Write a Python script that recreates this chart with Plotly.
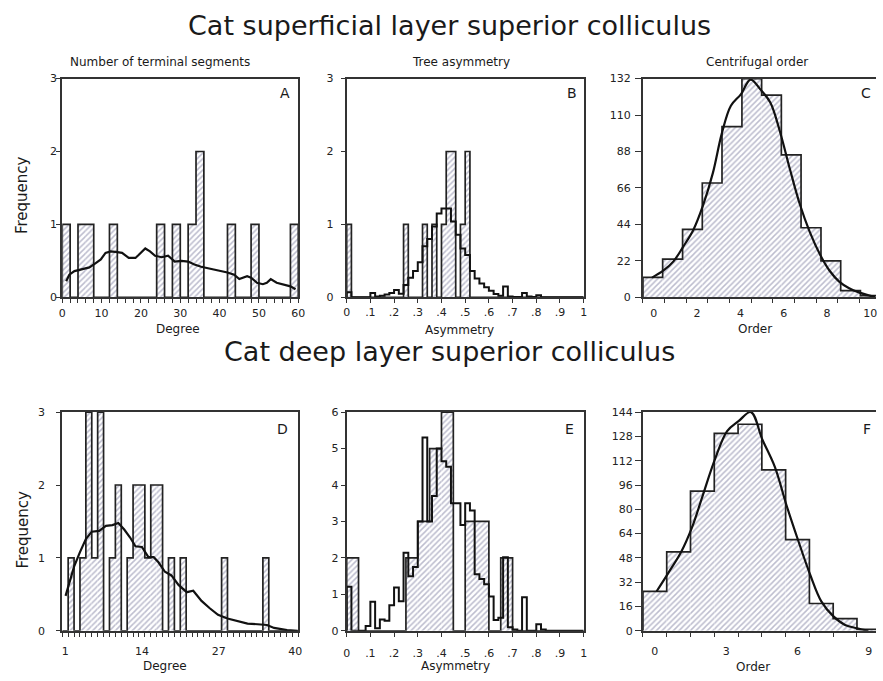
import plotly.graph_objects as go

W, H = 883, 681
FONT = "DejaVu Sans, Verdana, sans-serif"

# ---------------- data ----------------
# Panel A - number of terminal segments (superficial layer), bins of width 2
a_edges = list(range(0, 62, 2))
a_counts = [1, 0, 1, 1, 0, 0, 1, 0, 0, 0, 0, 0, 1, 0, 1, 0, 1, 2, 0, 0,
            0, 1, 0, 0, 1, 0, 0, 0, 0, 1]
a_fit_x = [1, 1.8, 3.1, 4.8, 6.9, 8.5, 9.8, 11, 12.3, 14, 15.2, 16.9, 18.6, 19.4,
           21.1, 22.3, 23.6, 25.3, 26.9, 28.6, 30.3, 32, 33.6, 35.3, 37, 38.7,
           40.3, 42, 43.7, 45, 47, 48, 49.5, 51, 52, 53, 54.5, 56, 58, 59.3]
a_fit_y = [0.22, 0.31, 0.36, 0.38, 0.41, 0.47, 0.52, 0.61, 0.63, 0.62, 0.61, 0.54,
           0.54, 0.58, 0.67, 0.63, 0.57, 0.55, 0.57, 0.49, 0.50, 0.49, 0.45, 0.42,
           0.40, 0.37, 0.36, 0.34, 0.31, 0.25, 0.29, 0.27, 0.20, 0.18, 0.20, 0.25,
           0.20, 0.18, 0.15, 0.11]

# Panel B - tree asymmetry (superficial layer), bins of width 0.02
b_edges = [0.00, 0.02, 0.04, 0.06, 0.08, 0.10, 0.12, 0.14, 0.16, 0.18, 0.20, 0.22,
           0.24, 0.26, 0.28, 0.30, 0.32, 0.34, 0.36, 0.38, 0.40, 0.42, 0.44, 0.46,
           0.48, 0.50, 0.52, 0.54, 0.56, 0.58, 0.60, 0.62, 0.64, 0.66, 0.68, 0.70,
           0.72, 0.74, 0.76, 0.78, 0.80, 0.82, 0.84, 0.86, 0.88, 0.90, 0.92, 0.94,
           0.96, 0.98, 1.00]
b_counts = [1, 0, 0, 0, 0, 0, 0, 0, 0, 0, 0, 0, 1, 0, 0, 0, 1, 0, 1, 0,
            1, 2, 2, 0, 1, 2, 0, 0, 0, 0, 0, 0, 0, 0, 0, 0, 0, 0, 0, 0,
            0, 0, 0, 0, 0, 0, 0, 0, 0, 0]
b_model = [0.07, 0, 0, 0, 0, 0.06, 0.01, 0.02, 0.04, 0.06,
           0.10, 0.05, 0.17, 0.27, 0.36, 0.48, 0.70, 0.80, 0.97, 1.15,
           1.22, 1.22, 1.04, 0.86, 0.67, 0.58, 0.36, 0.26, 0.19, 0.14,
           0.09, 0.045, 0.02, 0.15, 0.01, 0.005, 0.005, 0.06, 0.01, 0.005,
           0.03, 0, 0, 0, 0, 0, 0, 0, 0, 0]

# Panel C - centrifugal order (superficial layer)
c_edges = [-0.5, 0.41, 1.33, 2.24, 3.15, 4.07, 4.98, 5.89, 6.80, 7.72, 8.63, 9.54, 10.45]
c_counts = [12, 23, 41, 69, 103, 132, 122, 86, 42, 22, 4, 1]
c_fit_x = [-0.08, 0.45, 0.91, 1.36, 1.82, 2.27, 2.73, 3.14, 3.56, 4.02, 4.47, 4.92,
           5.38, 5.83, 6.29, 6.74, 7.2, 7.68, 8.11, 8.56, 9.02, 9.47, 9.92, 10.23]
c_fit_y = [11.9, 16.2, 21.7, 30.6, 40.5, 55.3, 75.1, 98.8, 115.6, 122.5, 131.4, 125.5,
           117.6, 99.8, 77.1, 56.3, 39.5, 25.7, 16.2, 9.5, 5.5, 3.0, 1.2, 0.4]

# Panel D - number of terminal segments (deep layer), unit bins
d_edges = [x + 0.5 for x in range(0, 41)]
d_counts = [0, 1, 0, 1, 3, 1, 3, 0, 1, 2, 0, 1, 2, 2, 1, 2, 2, 0, 1, 0,
            1, 0, 0, 0, 0, 0, 0, 1, 0, 0, 0, 0, 0, 0, 1, 0, 0, 0, 0, 0]
d_fit_x = [1.06, 1.7, 2.5, 3.5, 4.5, 5.5, 6.75, 7.9, 9, 10, 11, 12, 12.9, 14, 15.1,
           16, 16.8, 17.9, 19, 20.2, 21.6, 22.7, 24.1, 25.5, 26.9, 28.5, 30.2, 31.9,
           33.6, 35.2, 36.4, 37.5, 38.6, 40.4]
d_fit_y = [0.48, 0.67, 0.88, 1.08, 1.26, 1.36, 1.37, 1.44, 1.45, 1.48, 1.39, 1.28,
           1.16, 1.15, 1.01, 1.01, 0.94, 0.81, 0.76, 0.63, 0.53, 0.55, 0.41, 0.31,
           0.22, 0.17, 0.13, 0.10, 0.09, 0.08, 0.04, 0.02, 0.01, 0.0]

# Panel E - tree asymmetry (deep layer)
e_edges = [0.00, 0.05, 0.10, 0.15, 0.20, 0.25, 0.30, 0.35, 0.40, 0.45, 0.50, 0.55,
           0.60, 0.65, 0.70, 0.75, 0.80, 0.85, 0.90, 0.95, 1.00]
e_counts = [2, 0, 0, 0, 0, 2, 3, 5, 6, 0, 3, 3, 0, 2, 0, 0, 0, 0, 0, 0]
e_model = [1.21, 0, 0, 0, 0.13, 0.80, 0.07, 0.31, 0.28, 0.70,
           1.19, 0.81, 2.14, 1.50, 1.75, 3.0, 5.3, 3.0, 3.7, 5.0,
           4.65, 4.5, 3.5, 3.5, 2.9, 3.5, 3.3, 1.55, 1.42, 1.28,
           0.94, 0.30, 0.36, 2.02, 0.10, 0.04, 0, 0.92, 0, 0,
           0.18, 0.04, 0, 0, 0, 0, 0, 0, 0, 0]

# Panel F - centrifugal order (deep layer)
f_edges = [-0.5, 0.5, 1.5, 2.5, 3.5, 4.5, 5.5, 6.5, 7.5, 8.5, 9.5]
f_counts = [26, 52, 92, 130, 136, 106, 60, 18, 8, 1]
f_fit_x = [0.07, 0.55, 1.1, 1.56, 2.0, 2.53, 3.04, 3.52, 4.04, 4.52, 5.05, 5.53,
           6.01, 6.54, 7.0, 7.5, 8.0, 8.5, 8.98]
f_fit_y = [25.9, 37.7, 51.7, 67.9, 88.4, 113, 131.5, 138, 144, 126, 107.8, 83,
           60.3, 36.6, 19.4, 9.7, 3.9, 1.7, 0]

# ---------------- helpers ----------------
PATTERN = dict(shape="/", fgcolor="#7c7c9e", bgcolor="white", size=4, solidity=0.38)
LINE_C = "#222222"


def hist_bars(edges, counts, ax):
    n = len(counts)
    centers = [(edges[i] + edges[i + 1]) / 2 for i in range(n)]
    widths = [edges[i + 1] - edges[i] for i in range(n)]
    return go.Bar(x=centers, y=counts, width=widths, xaxis="x" + ax, yaxis="y" + ax,
                  marker=dict(color="white", line=dict(width=0), pattern=PATTERN),
                  hoverinfo="skip")


def step_outline(edges, counts, ax, width=1.7, color=LINE_C):
    n = len(counts)
    xs = [edges[0]] + list(edges[:n]) + [edges[n]]
    ys = [0] + list(counts) + [0]
    return go.Scatter(x=xs, y=ys, mode="lines", xaxis="x" + ax, yaxis="y" + ax,
                      line=dict(shape="hv", width=width, color=color), hoverinfo="skip")


def fit_line(xs, ys, ax, shape="linear"):
    return go.Scatter(x=xs, y=ys, mode="lines", xaxis="x" + ax, yaxis="y" + ax,
                      line=dict(color="#111", width=2.2, shape=shape), hoverinfo="skip")


traces = [
    hist_bars(a_edges, a_counts, ""), step_outline(a_edges, a_counts, ""),
    fit_line(a_fit_x, a_fit_y, ""),
    hist_bars(b_edges, b_counts, "2"), step_outline(b_edges, b_counts, "2"),
    step_outline(b_edges, b_model, "2", width=2, color="#111"),
    hist_bars(c_edges, c_counts, "3"), step_outline(c_edges, c_counts, "3"),
    fit_line(c_fit_x, c_fit_y, "3", shape="spline"),
    hist_bars(d_edges, d_counts, "4"), step_outline(d_edges, d_counts, "4"),
    fit_line(d_fit_x, d_fit_y, "4"),
    hist_bars(e_edges, e_counts, "5"), step_outline(e_edges, e_counts, "5"),
    step_outline(b_edges, e_model, "5", width=2, color="#111"),
    hist_bars(f_edges, f_counts, "6"), step_outline(f_edges, f_counts, "6"),
    fit_line(f_fit_x, f_fit_y, "6", shape="spline"),
]

fig = go.Figure(traces)


def dx(a, b):
    return [a / W, b / W]


def dy(top, bottom):
    return [1 - bottom / H, 1 - top / H]


TICKFONT = dict(family=FONT, size=11, color="#222")


def xax(domain, rng, anchor, tickvals, ticktext, minor_vals=None, major_ticks=True,
        mirror=True, standoff=0):
    d = dict(domain=domain, range=rng, anchor=anchor, showline=True, linewidth=2,
             linecolor="#333", mirror=mirror, showgrid=False, zeroline=False,
             tickmode="array", tickvals=tickvals, ticktext=ticktext,
             ticks="outside" if major_ticks else "", ticklen=4, tickwidth=1,
             tickcolor="#333", tickfont=TICKFONT, fixedrange=True,
             ticklabelstandoff=standoff)
    if minor_vals is not None:
        d["minor"] = dict(tickmode="array", tickvals=minor_vals, ticks="outside",
                          ticklen=4, tickwidth=1, tickcolor="#333", showgrid=False)
    return d


def yax(domain, rng, anchor, tickvals, mirror=True, ticklen=4, standoff=0):
    return dict(domain=domain, range=rng, anchor=anchor, showline=True, linewidth=2,
                linecolor="#333", mirror=mirror, showgrid=False, zeroline=False,
                tickmode="array", tickvals=tickvals, ticks="outside", ticklen=ticklen,
                tickwidth=1, tickcolor="#333", tickfont=TICKFONT, fixedrange=True,
                ticklabelstandoff=standoff)


XA, XB, XC = dx(59, 298), dx(347, 587), dx(647, 883)
YT, YB = dy(74, 297), dy(414, 637)

asym_vals = [0, 0.1, 0.2, 0.3, 0.4, 0.5, 0.6, 0.7, 0.8, 0.9, 1.0]
asym_text = ["0", ".1", ".2", ".3", ".4", ".5", ".6", ".7", ".8", ".9", "1"]

fig.update_layout(
    width=W, height=H, margin=dict(l=0, r=0, t=0, b=0), autosize=False,
    paper_bgcolor="white", plot_bgcolor="white", showlegend=False,
    barmode="overlay", font=dict(family=FONT, color="#222"),
    xaxis=xax(XA, [0, 60], "y", [0, 10, 20, 30, 40, 50, 60],
              ["0", "10", "20", "30", "40", "50", "60"], minor_vals=list(range(0, 61, 2))),
    yaxis=yax(YT, [0, 3], "x", [0, 1, 2, 3], standoff=-3),
    xaxis2=xax(XB, [0, 1], "y2", asym_vals, asym_text, standoff=-1),
    yaxis2=yax(YT, [0, 3], "x2", [0, 1, 2, 3], standoff=5),
    xaxis3=xax(XC, [-0.5, 10.26], "y3", [0, 2, 4, 6, 8, 10],
               ["0", "2", "4", "6", "8", "10"], minor_vals=[k - 0.5 for k in range(0, 12)],
               major_ticks=False, standoff=4),
    yaxis3=yax(YT, [0, 132], "x3", [0, 22, 44, 66, 88, 110, 132], mirror=False,
               ticklen=6, standoff=2),
    xaxis4=xax(XA, [0.5, 40.5], "y4", [1, 14, 27, 40], ["1", "14", "27", "40"],
               minor_vals=[k + 0.5 for k in range(0, 41)], major_ticks=False, standoff=9),
    yaxis4=yax(YB, [0, 3], "x4", [0, 1, 2, 3], standoff=9),
    xaxis5=xax(XB, [0, 1], "y5", asym_vals, asym_text, standoff=7),
    yaxis5=yax(YB, [0, 6], "x5", [0, 1, 2, 3, 4, 5, 6], standoff=0),
    xaxis6=xax(XC, [-0.5, 9.3], "y6", [0, 3, 6, 9], ["0", "3", "6", "9"],
               minor_vals=[k - 0.5 for k in range(0, 11)], major_ticks=False, standoff=9),
    yaxis6=yax(YB, [0, 144], "x6", [0, 16, 32, 48, 64, 80, 96, 112, 128, 144],
               mirror=False, ticklen=6, standoff=0),
)


def ann(text, x, y, size, angle=0, xanchor="center"):
    return dict(text=text, x=x / W, y=1 - y / H, xref="paper", yref="paper",
                showarrow=False, textangle=angle, xanchor=xanchor, yanchor="middle",
                font=dict(family=FONT, size=size, color="#1a1a1a"))


annotations = [
    ann("Cat superficial layer superior colliculus", 451, 20, 27),
    ann("Cat deep layer superior colliculus", 451, 352, 27),
    ann("Number of terminal segments", 158, 57, 12),
    ann("Tree asymmetry", 463, 57, 12),
    ann("Centrifugal order", 762, 57, 12),
    ann("Frequency", 19, 193, 15, -90),
    ann("Frequency", 19, 534, 15, -90),
    ann("Degree", 176, 329, 12),
    ann("Asymmetry", 461, 330, 12),
    ann("Order", 760, 329, 12),
    ann("Degree", 163, 673, 12),
    ann("Asymmetry", 457, 673, 12),
    ann("Order", 758, 674, 12),
    ann("A", 285, 89, 14),
    ann("B", 575, 89, 14),
    ann("C", 880, 89, 14, xanchor="right"),
    ann("D", 282, 431, 14),
    ann("E", 573, 431, 14),
    ann("F", 880, 431, 14, xanchor="right"),
]
fig.update_layout(annotations=annotations)

fig.write_html("out.html", config={"responsive": False, "displayModeBar": False},
               post_script="document.body.style.margin='0px';")
